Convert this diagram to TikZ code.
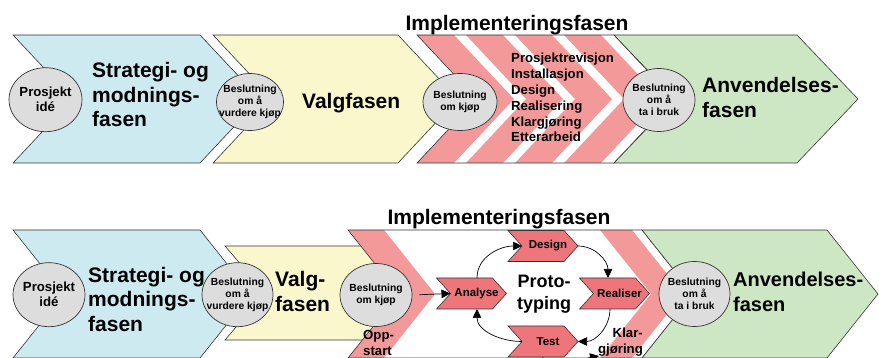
\documentclass[tikz,border=0pt]{standalone}
\usepackage{fontspec}
\setmainfont{Liberation Sans}
\usetikzlibrary{arrows.meta,shapes.geometric}

\definecolor{stratblue}{RGB}{205,234,241}
\definecolor{valgyellow}{RGB}{250,247,205}
\definecolor{implred}{RGB}{243,153,153}
\definecolor{protored}{RGB}{238,118,122}
\definecolor{anvgreen}{RGB}{205,230,196}
\definecolor{msgray}{RGB}{221,221,221}

% chevron: style, left x, top y, top length, height, tip depth
\newcommand\phasechev[6]{%
  \path[#1] (#2,#3) -- ++(#4,0) -- ++(#6,#5/2) -- ++(-#6,#5/2)
    -- ++(-#4,0) -- ++(#6,-#5/2) -- cycle;}

% multi-line text nodes are placed by the baseline of their last line
\tikzset{
  phase/.style={draw=black!80, line width=0.6pt},
  milestone/.style={ellipse, draw=black!80, line width=0.7pt, fill=msgray, inner sep=0pt},
  mstext/.style={font=\bfseries\fontsize{10.3}{12.2}\selectfont, inner sep=0pt, align=center},
  idetext/.style={font=\bfseries\fontsize{13.2}{15}\selectfont, inner sep=0pt, align=center},
  bigtext/.style={font=\bfseries\fontsize{21}{24.5}\selectfont, inner sep=0pt, align=left, anchor=base west},
  listtext/.style={font=\bfseries\fontsize{13.2}{15.8}\selectfont, inner sep=0pt, align=left, anchor=base west},
  smalltext/.style={font=\bfseries\fontsize{13.2}{15.5}\selectfont, inner sep=0pt, align=left, anchor=base west},
  titletext/.style={font=\bfseries\fontsize{21}{24.5}\selectfont, inner sep=0pt, anchor=base},
  prototext/.style={font=\bfseries\fontsize{18}{22}\selectfont, inner sep=0pt, align=center, anchor=base},
  steptext/.style={font=\bfseries\fontsize{11.5}{13}\selectfont, inner sep=0pt},
  flow/.style={-{Triangle[length=9pt,width=8.5pt]}, line width=0.7pt},
  pics/protostep/.style={code={
    \path[fill=protored, draw=black!80, line width=0.6pt]
      (-35,-15.5) -- (21,-15.5) -- (35,0) -- (21,15.5) -- (-35,15.5) -- (-21,0) -- cycle;
    \coordinate (-n) at (0,-15.5);
    \coordinate (-s) at (0,15.5);
    \coordinate (-w) at (-21,0);
    \coordinate (-e) at (35,0);
    \node[steptext] (-t) at (5,0) {#1};
  }}
}

\begin{document}
\begin{tikzpicture}[x=1pt,y=-1pt]
\clip (0,0) rectangle (879,358);
\useasboundingbox (0,0) rectangle (879,358);

% ---------- first row: phases in sequence ----------
\phasechev{phase, fill=stratblue}{13}{35}{187}{128}{60}
\phasechev{phase, fill=valgyellow}{213}{35}{185}{128}{60}
\phasechev{fill=white}{417}{35}{197}{128}{60}
\foreach \sx in {417,466,515,564}{\phasechev{fill=implred}{\sx}{35}{37}{128}{60}}
\phasechev{phase}{417}{35}{197}{128}{60}
\phasechev{phase, fill=anvgreen}{614}{35}{183}{128}{61}

\node[milestone, minimum width=73pt, minimum height=64pt] (ide1) at (45.5,99.7) {};
\node[idetext] (ide1-t) at (ide1) {Prosjekt\\idé};
\node[milestone, minimum width=67pt, minimum height=57pt] (vurd1) at (250,102) {};
\node[mstext] (vurd1-t) at (vurd1) {Beslutning\\om å\\vurdere kjøp};
\node[milestone, minimum width=74pt, minimum height=57pt] (kjop1) at (460,102) {};
\node[mstext] (kjop1-t) at (kjop1) {Beslutning\\om kjøp};
\node[milestone, minimum width=72pt, minimum height=63pt] (bruk1) at (659,100) {};
\node[mstext] (bruk1-t) at (bruk1) {Beslutning\\om å\\ta i bruk};

\node[bigtext] (strat1) at (92,127) {Strategi- og\\modnings-\\fasen};
\node[bigtext] (valg1) at (302,109) {Valgfasen};
\node[listtext] (impl1) at (511,142) {Prosjektrevisjon\\Installasjon\\Design\\Realisering\\Klargjøring\\Etterarbeid};
\node[bigtext] (anv1) at (702,117.5) {Anvendelses-\\fasen};
\node[titletext] (title1) at (517,31) {Implementeringsfasen};

% ---------- second row: prototyping loop ----------
\phasechev{phase, fill=stratblue}{13}{230}{187}{128}{51}
\phasechev{phase, fill=valgyellow}{225}{246}{140}{94}{40}
\phasechev{fill=white}{348}{230}{294}{128}{51}
\phasechev{fill=implred}{348}{230}{36}{128}{51}
\phasechev{fill=implred}{600}{230}{32}{128}{51}
\phasechev{phase}{348}{230}{294}{128}{51}
\phasechev{phase, fill=anvgreen}{642}{230}{185}{128}{51}

\node[milestone, minimum width=72pt, minimum height=64pt] (ide2) at (49,294.7) {};
\node[idetext] (ide2-t) at (ide2) {Prosjekt\\idé};
\node[milestone, minimum width=71pt, minimum height=64pt] (vurd2) at (237.5,294.7) {};
\node[mstext] (vurd2-t) at (vurd2) {Beslutning\\om å\\vurdere kjøp};
\node[milestone, minimum width=72pt, minimum height=63pt] (kjop2) at (376,295) {};
\node[mstext] (kjop2-t) at (kjop2) {Beslutning\\om kjøp};
\node[milestone, minimum width=71pt, minimum height=65pt] (bruk2) at (694.5,294) {};
\node[mstext] (bruk2-t) at (bruk2) {Beslutning\\om å\\ta i bruk};

\pic (des) at (543,246) {protostep=Design};
\pic (ana) at (471.5,293.5) {protostep=Analyse};
\pic (rea) at (614.5,293.5) {protostep=Realiser};
\pic (tst) at (543,341.5) {protostep=Test};

\draw[flow, shorten <=7pt] (kjop2.east) -- (ana-w);
\draw[flow] ([xshift=5.5pt]ana-n) to[out=90,in=180] (des-w);
\draw[flow] (des-e) to[out=0,in=90] ([xshift=-6.5pt]rea-n);
\draw[flow] ([xshift=-4.5pt]rea-s) to[out=-90,in=0] (tst-e);
\draw[flow] (tst-w) to[out=180,in=-90] ([xshift=5.5pt]ana-s);
\coordinate (klar-in) at (599,356);
\draw[flow] (tst-s) to[out=-90,in=190] (klar-in);

\node[bigtext] (strat2) at (88,331) {Strategi- og\\modnings-\\fasen};
\node[bigtext] (valg2) at (275,311.5) {Valg-\\fasen};
\node[smalltext] (opp) at (363,355.5) {Opp-\\start};
\node[titletext] (title2) at (499,225) {Implementeringsfasen};
\node[prototext] (proto) at (544,310) {Proto-\\typing};
\node[bigtext, font=\bfseries\fontsize{20}{24.5}\selectfont] (anv2) at (733,311.5) {Anvendelses-\\fasen};
\node[smalltext, align=right, anchor=base east] (klar) at (643,353) {Klar-\\gjøring};
\end{tikzpicture}
\end{document}
